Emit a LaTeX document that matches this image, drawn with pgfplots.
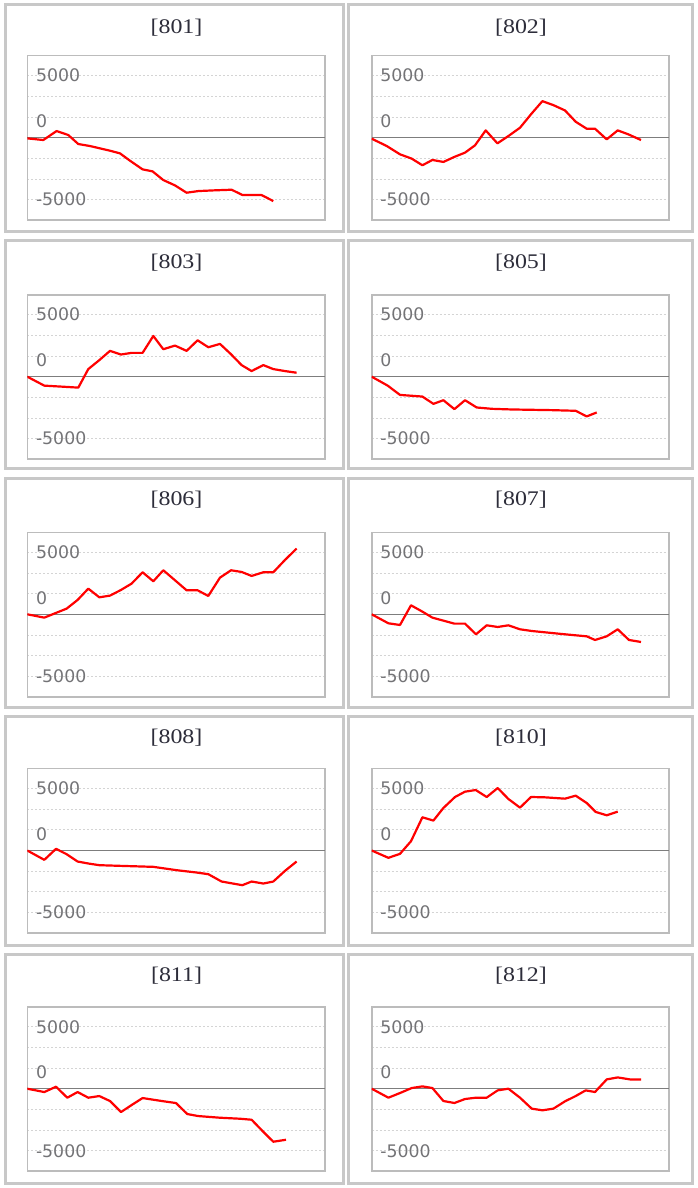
\documentclass[border=0pt]{standalone}
\usepackage{pgfplots}
\pgfplotsset{compat=1.18}
\usepackage{fontspec}
\setmainfont{DejaVu Sans}
\newfontfamily\titlefont[FakeStretch=1.15]{Liberation Serif}
\newfontfamily\tickfont{DejaVu Sans}
\definecolor{panelborder}{RGB}{200,200,200}
\definecolor{boxgray}{RGB}{188,188,188}
\definecolor{gridgray}{RGB}{212,212,212}
\definecolor{zerogray}{RGB}{125,125,125}
\definecolor{ticktext}{RGB}{115,115,118}
\definecolor{titletext}{RGB}{45,45,58}

\pgfplotsset{
  minipanel/.style={
    scale only axis, width=297.5pt, height=164.5pt,
    anchor=north west,
    xmin=0, xmax=297.5, ymin=-6653, ymax=6613,
    xtick=\empty,
    ytick={5000,1330,-5000},
    yticklabels={5000,0,-5000},
    major tick length=0pt,
    minor tick length=0pt,
    yticklabel style={anchor=west, inner sep=0pt, xshift=8.5pt,
      font=\tickfont\fontsize{17.3}{17.3}\selectfont, text=ticktext},
    minor ytick={-5000,-3333.33,-1666.67,1666.67,3333.33,5000},
    yminorgrids=true,
    minor grid style={gridgray, dash pattern=on 2pt off 2pt, line width=0.8pt},
    extra y ticks={0},
    extra y tick labels={},
    extra y tick style={ymajorgrids=true, major grid style={zerogray, line width=1.4pt}},
    axis line style={boxgray, line width=1.6pt},
  },
  pline/.style={red, line width=2.2pt, line join=round, mark=none},
}

\begin{document}
\begin{tikzpicture}
\useasboundingbox (0pt,0pt) rectangle (697pt,-1188pt);

% ---------- panel borders ----------
\foreach \t/\b in {5/231.5, 240/468.3, 478.3/707.3, 716.3/945.3, 954.3/1183.3}{
  \draw[panelborder, line width=3pt] (5pt,-\t pt) rectangle (343.5pt,-\b pt);
  \draw[panelborder, line width=3pt] (348pt,-\t pt) rectangle (692pt,-\b pt);
}

% ---------- titles ----------
\tikzset{ttl/.style={font=\titlefont\fontsize{20.8}{20.8}\selectfont, text=titletext}}
\node[ttl] at (176.5pt,-27.7pt) {[801]};
\node[ttl] at (521pt,-27.7pt) {[802]};
\node[ttl] at (176.5pt,-262.7pt) {[803]};
\node[ttl] at (521pt,-262.7pt) {[805]};
\node[ttl] at (176.5pt,-500pt) {[806]};
\node[ttl] at (521pt,-500pt) {[807]};
\node[ttl] at (176.5pt,-738pt) {[808]};
\node[ttl] at (521pt,-738pt) {[810]};
\node[ttl] at (176.5pt,-976pt) {[811]};
\node[ttl] at (521pt,-976pt) {[812]};

% ---------- 801 ----------
\begin{axis}[minipanel, at={(27.3pt,-55.7pt)}]
\addplot[pline] table {
0 -54
16 -188
29.3 538
41 215
51 -511
62.7 -672
72.7 -861
82.7 -1049
92.7 -1264
102.7 -1856
115.3 -2556
125.3 -2717
136 -3416
147.7 -3847
159.3 -4438
171 -4304
186 -4250
204.3 -4196
215.3 -4627
234.3 -4627
246 -5111
};
\end{axis}

% ---------- 802 ----------
\begin{axis}[minipanel, at={(371.7pt,-55.7pt)}]
\addplot[pline] table {
0 -80
15 -670
28.3 -1340
40 -1688
50.7 -2224
60.7 -1796
71.7 -1956
83.3 -1528
93.3 -1206
103.3 -616
114 590
125.7 -456
136.7 134
148.3 804
160 1956
170.7 2948
181.7 2626
193.3 2198
204 1286
215 724
223.3 724
235 -134
246 590
256.7 268
269.3 -188
};
\end{axis}

% ---------- 803 ----------
\begin{axis}[minipanel, at={(27.3pt,-294.7pt)}]
\addplot[pline] table {
0 0
17 -721
34.3 -801
51 -881
61 614
72 1335
82.7 2083
93.7 1789
104.3 1922
115.3 1922
126 3284
136 2216
147.7 2510
159.3 2083
170.3 2937
181 2376
192.7 2643
203.3 1842
214.3 935
224.3 454
236 935
246 614
257.7 454
269.3 320
};
\end{axis}

% ---------- 805 ----------
\begin{axis}[minipanel, at={(371.7pt,-294.7pt)}]
\addplot[pline] table {
0 0
16 -721
28.3 -1469
50.7 -1602
61.7 -2189
71.7 -1896
82.7 -2617
93.3 -1896
105 -2483
120 -2590
140 -2643
160 -2670
180 -2697
204 -2750
215 -3204
225 -2884
};
\end{axis}

% ---------- 806 ----------
\begin{axis}[minipanel, at={(27.3pt,-532.3pt)}]
\addplot[pline] table {
0 0
17 -269
27.7 80
39.3 457
50.3 1157
61 2071
72 1372
82.7 1506
93.7 1964
104.3 2475
115.3 3389
126 2663
136 3551
147.7 2744
159.3 1937
170.3 1937
181 1480
192.7 2959
203.7 3551
214.3 3416
224.3 3093
236 3389
246 3389
257.7 4385
269.3 5299
};
\end{axis}

% ---------- 807 ----------
\begin{axis}[minipanel, at={(371.7pt,-532.3pt)}]
\addplot[pline] table {
0 0
16.7 -726
28.3 -861
39.3 726
50.7 215
60.7 -269
71.7 -511
82.7 -753
93.3 -753
104.3 -1614
115 -888
126 -1022
136.7 -888
148.3 -1210
160 -1345
173.3 -1453
190 -1587
204 -1695
215 -1776
223.3 -2071
235 -1776
246 -1210
257.3 -2071
269.3 -2233
};
\end{axis}

% ---------- 808 ----------
\begin{axis}[minipanel, at={(27.3pt,-768.5pt)}]
\addplot[pline] table {
0 0
17 -753
28.7 134
39.3 -296
50.3 -888
61 -1049
72 -1184
92.7 -1237
126 -1318
149.3 -1587
169.3 -1775
181 -1910
194.3 -2502
215 -2798
224.3 -2502
236 -2663
246 -2502
257.7 -1641
269.3 -888
};
\end{axis}

% ---------- 810 ----------
\begin{axis}[minipanel, at={(371.7pt,-768.5pt)}]
\addplot[pline] table {
0 0
16.7 -590
28.3 -268
39.3 750
50.7 2680
61.7 2412
71.7 3430
83.3 4315
93.3 4744
104 4878
115 4315
126 5038
136.7 4154
148.3 3457
159.3 4315
173.3 4288
193.3 4181
204 4422
215 3832
224 3109
235 2841
246 3136
};
\end{axis}

% ---------- 811 ----------
\begin{axis}[minipanel, at={(27.3pt,-1006.7pt)}]
\addplot[pline] table {
0 0
17 -269
28.7 161
40 -726
50.3 -269
61 -726
72 -592
82.7 -995
93.7 -1883
104.3 -1318
115.3 -753
126 -888
137 -1022
148.7 -1157
160 -2044
171 -2206
192.7 -2340
212.7 -2421
224.3 -2502
235.3 -3416
246 -4277
258.7 -4116
};
\end{axis}

% ---------- 812 ----------
\begin{axis}[minipanel, at={(371.7pt,-1006.7pt)}]
\addplot[pline] table {
0 0
16.7 -724
28.3 -348
40 54
50.7 188
60.7 54
71.7 -992
82.7 -1152
93.3 -831
104.3 -724
115 -724
126 -134
136.7 0
148.3 -724
160 -1608
170.7 -1742
181.7 -1608
193.3 -1018
204 -590
214 -134
223.3 -268
235 750
246 911
258.3 750
269.3 750
};
\end{axis}
\end{tikzpicture}
\end{document}
